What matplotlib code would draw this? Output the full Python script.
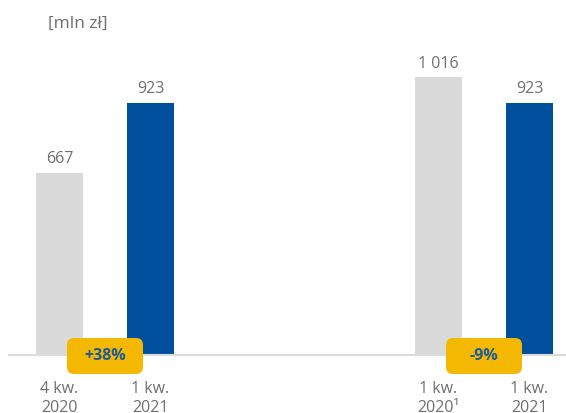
import matplotlib
matplotlib.use("Agg")
import matplotlib.pyplot as plt
from matplotlib.patches import FancyBboxPatch
from matplotlib.transforms import IdentityTransform

plt.rcParams['font.family'] = ['Open Sans', 'DejaVu Sans']

categories = ["4 kw.\n2020", "1 kw.\n2021", "1 kw.\n2020\u00b9", "1 kw.\n2021"]
values = [667, 923, 1016, 923]
changes = ["+38%", "-9%"]
unit_label = "[mln zł]"

positions = [0, 1, 4.165, 5.165]
colors = ["#d9dad9", "#00509e", "#d9dad9", "#00509e"]
text_gray = "#6f6f6f"
badge_yellow = "#f5b800"
badge_text = "#1c5a9c"

W, H = 566, 413
fig = plt.figure(figsize=(W / 100, H / 100), dpi=100)
ax_left, ax_right = 9, 566
ax_bottom = 58
ax = fig.add_axes([ax_left / W, ax_bottom / H, (ax_right - ax_left) / W, (H - ax_bottom) / H])
ax.set_xlim(-0.555, 5.566)
ax.set_ylim(0, (H - ax_bottom) / 0.2735)

ax.bar(positions, values, width=0.516, color=colors, zorder=2)

for p, v in zip(positions, values):
    lab = f"{v:,}".replace(",", " ")
    ax.annotate(lab, (p, v), xytext=(0, 4), textcoords="offset points",
                ha="center", va="bottom", fontsize=11.5, color=text_gray)

for s in ["top", "right", "left"]:
    ax.spines[s].set_visible(False)
ax.spines["bottom"].set_color("#dcdcdc")
ax.spines["bottom"].set_linewidth(1.5)
ax.set_yticks([])
ax.set_xticks(positions)
ax.set_xticklabels(categories, fontsize=11.5, color=text_gray, linespacing=1.25)
ax.tick_params(axis="x", length=0, pad=19)

fig.canvas.draw()
pairs = [(positions[0], positions[1]), (positions[2], positions[3])]
for (a, b), txt in zip(pairs, changes):
    xc = (a + b) / 2
    dx, dy = ax.transData.transform((xc, 0))
    bw, bh = 76, 36
    patch = FancyBboxPatch((dx - bw / 2 + 6, dy - bh / 2 + 6 - 1), bw - 12, bh - 12,
                           boxstyle="round,pad=6,rounding_size=7",
                           facecolor=badge_yellow, edgecolor="none",
                           transform=IdentityTransform(), zorder=5)
    fig.add_artist(patch)
    fig.text((dx) / W, (dy - 1) / H, txt, ha="center", va="center",
             fontsize=11.5, fontweight="bold", color=badge_text, zorder=6)

fig.text(48 / W, 1 - 24 / H, unit_label, ha="left", va="center",
         fontsize=12.5, color=text_gray)

fig.savefig("out.png", dpi=100)
